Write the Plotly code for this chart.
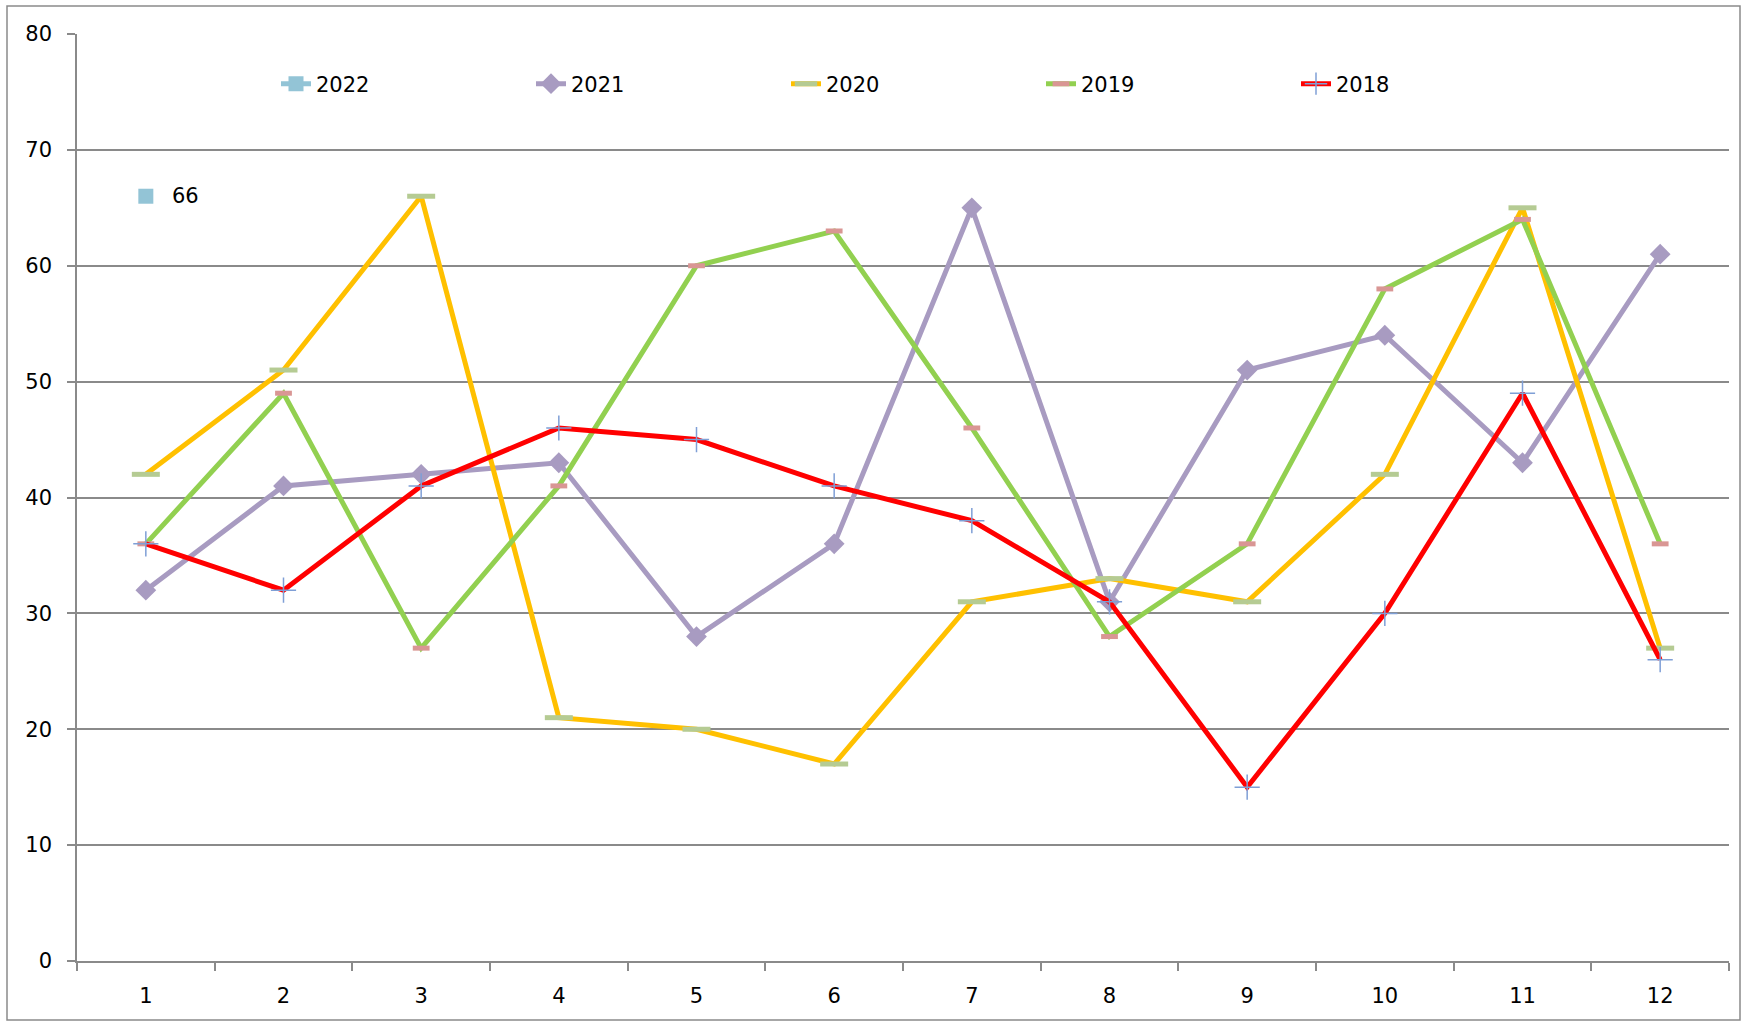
import plotly.graph_objects as go

months = ["1", "2", "3", "4", "5", "6", "7", "8", "9", "10", "11", "12"]
v2022 = [66]
v2021 = [32, 41, 42, 43, 28, 36, 65, 31, 51, 54, 43, 61]
v2020 = [42, 51, 66, 21, 20, 17, 31, 33, 31, 42, 65, 27]
v2019 = [36, 49, 27, 41, 60, 63, 46, 28, 36, 58, 64, 36]
v2018 = [36, 32, 41, 46, 45, 41, 38, 31, 15, 30, 49, 26]
y_ticks = [0, 10, 20, 30, 40, 50, 60, 70, 80]

FONT = "DejaVu Sans"
FS = 21
GRID = "#8a8a8a"
W, H = 1742, 1022
ML, MR, MT, MB = 77, 13, 34, 61
PW, PH = W - ML - MR, H - MT - MB
LW = 5

fig = go.Figure()

fig.add_trace(go.Scatter(
    x=months[:len(v2022)], y=v2022, name="2022", mode="lines+markers",
    line=dict(color="#93C4D6", width=LW),
    marker=dict(symbol="square", size=15, color="#93C4D6"),
))
fig.add_trace(go.Scatter(
    x=months, y=v2021, name="2021", mode="lines+markers",
    line=dict(color="#A89BC1", width=LW),
    marker=dict(symbol="diamond", size=16, color="#A89BC1"),
))
fig.add_trace(go.Scatter(
    x=months, y=v2020, name="2020", mode="lines+markers",
    line=dict(color="#FFC000", width=LW),
    marker=dict(symbol="line-ew", size=20, line=dict(color="#B5CB93", width=5)),
))
fig.add_trace(go.Scatter(
    x=months, y=v2019, name="2019", mode="lines+markers",
    line=dict(color="#92D050", width=LW),
    marker=dict(symbol="line-ew", size=12, line=dict(color="#D99694", width=5)),
))
fig.add_trace(go.Scatter(
    x=months, y=v2018, name="2018", mode="lines+markers",
    line=dict(color="#FF0000", width=LW),
    marker=dict(symbol="cross-thin", size=18, line=dict(color="#7F9FD6", width=1.5)),
))

annotations = [
    dict(x=i, y=v, xref="x", yref="y", text=str(v), showarrow=False,
         xanchor="left", yanchor="middle", xshift=24,
         font=dict(family=FONT, size=FS, color="black"))
    for i, v in enumerate(v2022)
]

fig.update_layout(
    width=W, height=H,
    margin=dict(l=ML, r=MR, t=MT, b=MB),
    paper_bgcolor="white", plot_bgcolor="white",
    font=dict(family=FONT, size=FS, color="black"),
    showlegend=True,
    legend=dict(
        orientation="h", x=(276 - ML) / PW, y=(H - MB - 84) / PH,
        xanchor="left", yanchor="middle",
        entrywidth=210, entrywidthmode="pixels",
        font=dict(family=FONT, size=FS), bgcolor="rgba(0,0,0,0)",
        traceorder="normal",
    ),
    annotations=annotations,
    shapes=[dict(
        type="rect", xref="paper", yref="paper",
        x0=(7 - ML) / PW, x1=1.0 + (1740 - ML - PW) / PW,
        y0=-(1020 - (H - MB)) / PH, y1=1.0 + (MT - 6) / PH,
        line=dict(color=GRID, width=1.5), fillcolor="rgba(0,0,0,0)", layer="below",
    )],
)

fig.update_xaxes(
    type="category", categoryorder="array", categoryarray=months,
    range=[-0.5, 11.5],
    tickson="boundaries", ticks="outside", ticklen=8, tickcolor=GRID, tickwidth=1.5,
    showline=True, linecolor=GRID, linewidth=1.5, showgrid=False,
    ticklabelstandoff=15, tickfont=dict(family=FONT, size=FS),
)
fig.update_yaxes(
    range=[0, 80], tickvals=y_ticks, ticks="outside", ticklen=8,
    tickcolor=GRID, tickwidth=1.5,
    showline=True, linecolor=GRID, linewidth=1.5,
    showgrid=True, gridcolor=GRID, gridwidth=1.5, zeroline=False,
    ticklabelstandoff=11, tickfont=dict(family=FONT, size=FS),
)

fig.write_html("out.html", post_script="document.body.style.margin='0';",
               config={"displayModeBar": False})
